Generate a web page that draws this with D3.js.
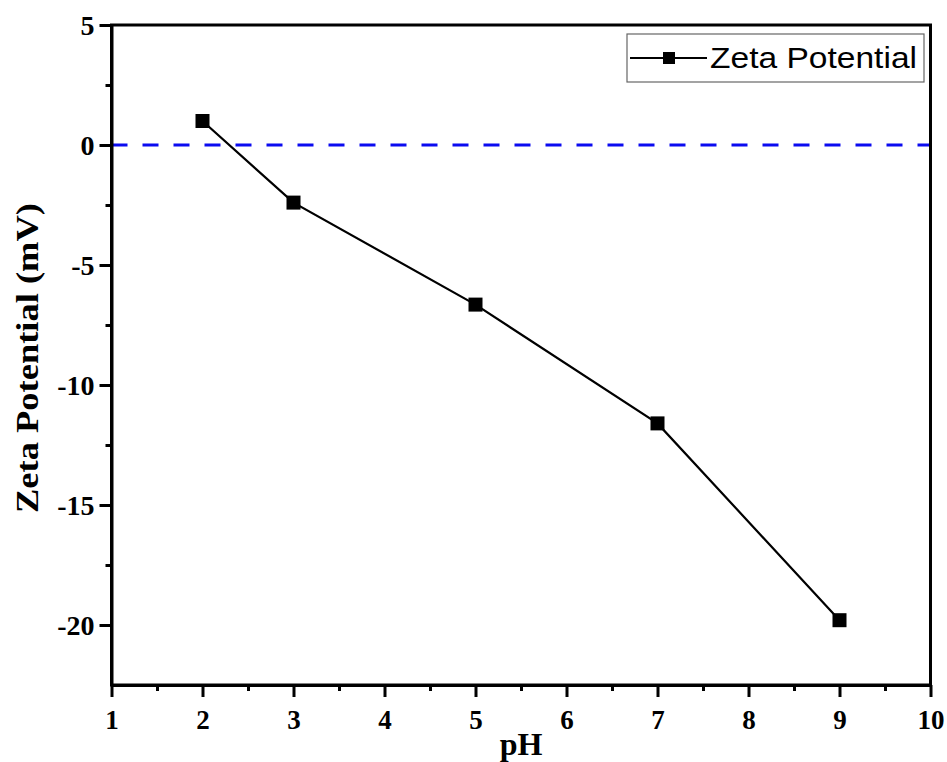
<!DOCTYPE html>
<html><head><meta charset="utf-8">
<script src="https://cdn.jsdelivr.net/npm/d3@7"></script>
<style>html,body{margin:0;padding:0;background:#fff;}</style>
</head><body>
<script>
const phValues = [2, 3, 5, 7, 9];
const zetaValues = [1.0, -2.4, -6.65, -11.6, -19.8];
const xTicks = [1, 2, 3, 4, 5, 6, 7, 8, 9, 10];
const yTicks = [5, 0, -5, -10, -15, -20];
const seriesName = "Zeta Potential";

const W = 947, H = 762;
const m = {left: 111.5, top: 25, right: 16.5, bottom: 77};
const svg = d3.select("body").append("svg").attr("width", W).attr("height", H);
const x = d3.scaleLinear().domain([1, 10]).range([m.left, W - m.right]);
const y = d3.scaleLinear().domain([-22.5, 5]).range([H - m.bottom, m.top]);

const serif = "'Liberation Serif','Times New Roman',serif";
const sans = "'Liberation Sans',Arial,sans-serif";
const fmt = d => String(d);

// zero reference line
svg.append("line").attr("x1", x(1)).attr("x2", x(10)).attr("y1", y(0)).attr("y2", y(0))
  .attr("stroke", "#0b0bf0").attr("stroke-width", 3).attr("stroke-dasharray", "16,15");

// minor ticks
const xMinor = d3.range(1.5, 10, 1);
const yMinor = d3.range(-20, 5.1, 2.5).filter(v => v % 5 !== 0);

const xAxis = svg.append("g").attr("transform", `translate(0,${y(-22.5)})`)
  .call(d3.axisBottom(x).tickValues(xTicks).tickSize(12).tickSizeOuter(0).tickPadding(6).tickFormat(fmt));
svg.append("g").attr("transform", `translate(0,${y(-22.5)})`)
  .call(d3.axisBottom(x).tickValues(xMinor).tickSize(6).tickFormat("").tickSizeOuter(0))
  .call(g => g.select(".domain").remove());
const yAxis = svg.append("g").attr("transform", `translate(${x(1)},0)`)
  .call(d3.axisLeft(y).tickValues(yTicks).tickSize(12).tickSizeOuter(0).tickPadding(5).tickFormat(fmt));
svg.append("g").attr("transform", `translate(0,0)`).attr("transform", `translate(${x(1)},0)`)
  .call(d3.axisLeft(y).tickValues(yMinor).tickSize(6).tickFormat("").tickSizeOuter(0))
  .call(g => g.select(".domain").remove());

svg.selectAll(".tick line").attr("stroke", "#000").attr("stroke-width", 3);
svg.selectAll(".domain").attr("stroke", "#000").attr("stroke-width", 3);
xAxis.selectAll("text").attr("font-family", serif).attr("font-weight", "bold").attr("font-size", 27)
  .attr("fill", "#000").attr("y", 44).attr("dy", 0);
yAxis.selectAll("text").attr("font-family", serif).attr("font-weight", "bold").attr("font-size", 28)
  .attr("fill", "#000").attr("dy", "0.34em");

// frame
svg.append("rect").attr("x", x(1)).attr("y", y(5)).attr("width", x(10) - x(1)).attr("height", y(-22.5) - y(5))
  .attr("fill", "none").attr("stroke", "#000").attr("stroke-width", 3);

// series line
const pts = phValues.map((p, i) => [p, zetaValues[i]]);
svg.append("path").datum(pts)
  .attr("d", d3.line().x(d => x(d[0])).y(d => y(d[1])))
  .attr("fill", "none").attr("stroke", "#000").attr("stroke-width", 2.2);
const ms = 14;
svg.selectAll(".pt").data(pts).enter().append("rect")
  .attr("x", d => x(d[0]) - ms / 2).attr("y", d => y(d[1]) - ms / 2)
  .attr("width", ms).attr("height", ms).attr("fill", "#000");

// axis titles
svg.append("text").attr("x", 521).attr("y", 755).attr("text-anchor", "middle")
  .attr("font-family", serif).attr("font-weight", "bold").attr("font-size", 32).text("pH");
svg.append("text").attr("transform", `translate(38,358) rotate(-90)`).attr("text-anchor", "middle")
  .attr("font-family", serif).attr("font-weight", "bold").attr("font-size", 31)
  .attr("textLength", 310).attr("lengthAdjust", "spacingAndGlyphs").text("Zeta Potential (mV)");

// legend
const lg = svg.append("g");
lg.append("rect").attr("x", 627).attr("y", 34).attr("width", 297).attr("height", 48)
  .attr("fill", "#fff").attr("stroke", "#666").attr("stroke-width", 1.2);
lg.append("line").attr("x1", 630).attr("x2", 707).attr("y1", 58).attr("y2", 58).attr("stroke", "#000").attr("stroke-width", 2.2);
lg.append("rect").attr("x", 669 - 6).attr("y", 58 - 6).attr("width", 12).attr("height", 12).attr("fill", "#000");
lg.append("text").attr("x", 710).attr("y", 68).attr("font-family", sans).attr("font-size", 29).attr("fill", "#000")
  .attr("textLength", 207).attr("lengthAdjust", "spacingAndGlyphs").text(seriesName);
</script>
</body></html>
